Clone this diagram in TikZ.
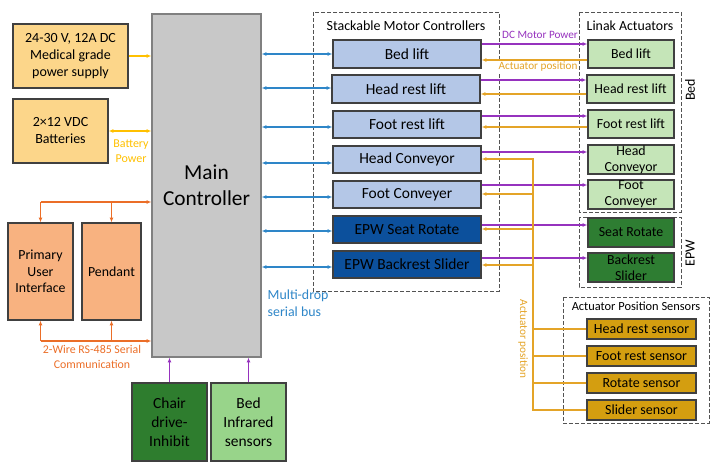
\documentclass[tikz,border=0pt]{standalone}
\usepackage{fontspec}
\setmainfont{Carlito}
\usetikzlibrary{arrows.meta}
\definecolor{psfill}{RGB}{252,214,138}
\definecolor{maingray}{RGB}{200,200,200}
\definecolor{puifill}{RGB}{248,178,128}
\definecolor{dkgreen}{RGB}{46,125,46}
\definecolor{ltgreen}{RGB}{152,212,138}
\definecolor{ltblue}{RGB}{180,199,231}
\definecolor{dkblue}{RGB}{12,80,156}
\definecolor{linakgreen}{RGB}{197,229,184}
\definecolor{epwgreen}{RGB}{46,125,50}
\definecolor{sensgold}{RGB}{212,158,16}
\definecolor{cblue}{RGB}{46,134,200}
\definecolor{cpurple}{RGB}{150,50,190}
\definecolor{cgold}{RGB}{228,164,40}
\definecolor{corange}{RGB}{235,110,40}
\definecolor{cyellow}{RGB}{255,192,0}
\definecolor{bordergray}{RGB}{64,64,64}
\newcommand\mybox[7]{\node[#6, minimum width={(#4-#2)*0.75pt}, minimum height={(#5-#3)*0.75pt}] (#1) at ({(#2+#4)/2},{(#3+#5)/2}) {#7};}
\begin{document}
\begin{tikzpicture}[x=0.75pt,y=-0.75pt,
  blk/.style={draw=bordergray, line width=0.9pt, inner sep=0pt, align=center},
  dbox/.style={draw=bordergray!90, line width=0.75pt, dash pattern=on 3pt off 1.5pt},
  tip/.tip={Latex[length=3.6pt,width=3pt]},
  conn/.style={line width=0.9pt},
  blu/.style={conn, draw=cblue, tip-tip},
  purp/.style={conn, draw=cpurple},
  gld/.style={conn, draw=cgold},
  org/.style={conn, draw=corange},
  ylw/.style={conn, draw=cyellow},
  fA/.style={font=\fontsize{10.5}{12.75}\selectfont},
  fB/.style={font=\fontsize{11.6}{14.3}\selectfont},
  fC/.style={font=\fontsize{10.4}{12.4}\selectfont},
  fS/.style={font=\fontsize{8.4}{10}\selectfont}
]
\useasboundingbox (0,0) rectangle (720,469);

% left side
\mybox{ps}{13}{24}{128}{88}{blk, fill=psfill, fA}{24-30 V, 12A DC\\Medical grade\\power supply}
\mybox{bat}{13}{99}{108}{163}{blk, fill=psfill, fA}{2×12 VDC\\Batteries}
\mybox{main}{152}{14}{261}{357}{draw=gray, line width=0.9pt, fill=maingray, inner sep=0pt, align=center, font=\fontsize{16}{19.5}\selectfont}{Main\\Controller}
\mybox{pui}{8}{223}{73}{320}{blk, fill=puifill, fC}{Primary\\User\\Interface}
\mybox{pend}{82}{223}{141}{320}{blk, fill=puifill, fC}{Pendant}
\mybox{chair}{132}{383}{207}{461}{blk, fill=dkgreen, fB}{Chair\\drive-\\Inhibit}
\mybox{ir}{211}{383}{286}{461}{blk, fill=ltgreen, fB}{Bed\\Infrared\\sensors}

% power connectors
\draw[ylw,-tip] (ps.east |- 0,56) -- (main.west |- 0,56);
\draw[ylw,tip-tip] (bat.east) -- (main.west |- bat.east);
\node[text=cyellow, align=center, font=\fontsize{9}{11}\selectfont] (bp) at (131,151) {Battery\\Power};

% RS-485
\coordinate (otop) at (pui.north |- 0,202);
\coordinate (obot) at (pui.south |- 0,341);
\draw[org,-tip] (otop) -- (main.west |- otop);
\draw[org,-tip] (otop) -- (pui.north);
\draw[org,-tip] (pend.north |- otop) -- (pend.north);
\draw[org,-tip] (obot) -- (main.west |- obot);
\draw[org,-tip] (obot) -- (pui.south);
\draw[org,-tip] (pend.south |- obot) -- (pend.south);
\node[text=corange, align=center, font=\fontsize{8.9}{11}\selectfont] (rs) at (92,357) {2-Wire RS-485 Serial\\Communication};

% bottom sensors
\draw[purp,-tip] (chair.north) -- (chair.north |- main.south);
\draw[purp,-tip] (ir.north) -- (ir.north |- main.south);

% stackable motor controllers
\draw[dbox] (313,12) rectangle (499,291);
\node[fA] (smc) at (406,26) {Stackable Motor Controllers};
\mybox{c1}{333}{40}{481}{68}{blk, fill=ltblue, fB}{Bed lift}
\mybox{c2}{332}{75}{480}{103}{blk, fill=ltblue, fB}{Head rest lift}
\mybox{c3}{333}{111}{481}{138}{blk, fill=ltblue, fB}{Foot rest lift}
\mybox{c4}{333}{146}{481}{173}{blk, fill=ltblue, fB}{Head Conveyor}
\mybox{c5}{333}{181}{481}{208}{blk, fill=ltblue, fB}{Foot Conveyer}
\mybox{c6}{333}{216}{481}{243}{blk, fill=dkblue, fB}{EPW Seat Rotate}
\mybox{c7}{333}{251}{481}{278}{blk, fill=dkblue, fB}{EPW Backrest Slider}

\draw[blu] (main.east |- 0,54) -- (c1.west |- 0,54);
\draw[blu] (main.east |- 0,88) -- (c2.west |- 0,88);
\draw[blu] (main.east |- 0,127) -- (c3.west |- 0,127);
\draw[blu] (main.east |- 0,163) -- (c4.west |- 0,163);
\draw[blu] (main.east |- 0,197) -- (c5.west |- 0,197);
\draw[blu] (main.east |- 0,231) -- (c6.west |- 0,231);
\draw[blu] (main.east |- 0,267) -- (c7.west |- 0,267);
\node[text=cblue, anchor=west, align=left, font=\fontsize{10.4}{12.8}\selectfont] (mdb) at (263,303) {Multi-drop\\serial bus};

% Linak actuators
\draw[dbox] (579,12) rectangle (681,212);
\node[fC] (lin) at (630,26) {Linak Actuators};
\node[fA, rotate=90] (bedl) at (690,90) {Bed};
\mybox{a1}{588}{40}{674}{68}{blk, fill=linakgreen, fC}{Bed lift}
\mybox{a2}{587}{75}{674}{103}{blk, fill=linakgreen, fC}{Head rest lift}
\mybox{a3}{588}{110}{674}{138}{blk, fill=linakgreen, fC}{Foot rest lift}
\mybox{a4}{588}{145}{674}{174}{blk, fill=linakgreen, font=\fontsize{10.4}{12.2}\selectfont}{Head\\Conveyor}
\mybox{a5}{588}{180}{674}{209}{blk, fill=linakgreen, font=\fontsize{10.4}{12.2}\selectfont}{Foot\\Conveyer}
\draw[dbox] (579,217) rectangle (681,287);
\node[fA, rotate=90] (epwl) at (690,253) {EPW};
\mybox{a6}{588}{218}{674}{247}{blk, fill=epwgreen, fC}{Seat Rotate}
\mybox{a7}{588}{253}{674}{282}{blk, fill=epwgreen, font=\fontsize{10.4}{12.2}\selectfont}{Backrest\\Slider}

% DC motor power
\draw[purp,-tip] (c1.east |- 0,44) -- (a1.west |- 0,44);
\draw[purp,-tip] (c2.east |- 0,80) -- (a2.west |- 0,80);
\draw[purp,-tip] (c3.east |- 0,116) -- (a3.west |- 0,116);
\draw[purp,-tip] (c4.east |- 0,152) -- (a4.west |- 0,152);
\draw[purp,-tip] (c5.east |- 0,185) -- (a5.west |- 0,185);
\draw[purp,-tip] (c6.east |- 0,225) -- (a6.west |- 0,225);
\draw[purp,-tip] (c7.east |- 0,258) -- (a7.west |- 0,258);
\node[text=cpurple, fS] (dcp) at (540,35) {DC Motor Power};

% actuator position (Linak)
\draw[gld,-tip] (a1.west |- 0,60) -- (c1.east |- 0,60);
\draw[gld,-tip] (a2.west |- 0,94) -- (c2.east |- 0,94);
\draw[gld,-tip] (a3.west |- 0,127) -- (c3.east |- 0,127);
\node[text=cgold, fS, fill=white, inner sep=0.5pt] (ap) at (538,67) {Actuator position};

% actuator position sensors
\draw[dbox] (563,297) rectangle (709,423);
\node[font=\fontsize{9.3}{11}\selectfont] (aps) at (636,306) {Actuator Position Sensors};
\mybox{s1}{587}{319}{696}{339}{blk, fill=sensgold, fA}{Head rest sensor}
\mybox{s2}{587}{346}{696}{366}{blk, fill=sensgold, fA}{Foot rest sensor}
\mybox{s3}{587}{373}{696}{393}{blk, fill=sensgold, fA}{Rotate sensor}
\mybox{s4}{587}{400}{696}{420}{blk, fill=sensgold, fA}{Slider sensor}

\coordinate (bus) at (533,159);
\draw[gld,-tip] (s4.west) -- (bus |- s4.west) -- (bus) -- (c4.east |- bus);
\draw[gld] (s1.west) -- (bus |- s1.west);
\draw[gld] (s2.west) -- (bus |- s2.west);
\draw[gld] (s3.west) -- (bus |- s3.west);
\draw[gld,-tip] (bus |- 0,194) -- (c5.east |- 0,194);
\draw[gld,-tip] (bus |- 0,229) -- (c6.east |- 0,229);
\draw[gld,-tip] (bus |- 0,265) -- (c7.east |- 0,265);
\node[text=cgold, fS, rotate=-90] (apv) at (523,339) {Actuator position};
\end{tikzpicture}
\end{document}
